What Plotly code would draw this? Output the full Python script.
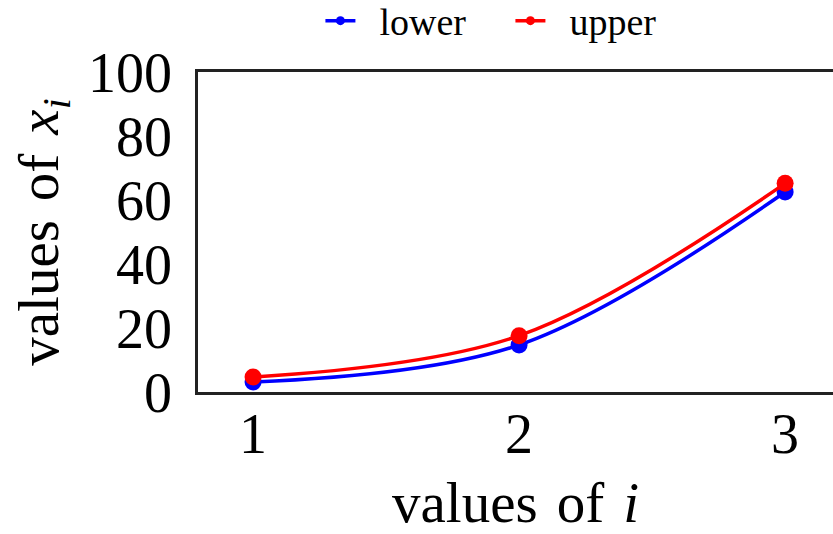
import plotly.graph_objects as go

# index values and the two bound series
i_values = [1, 2, 3]
lower = [3.1, 14.7, 62.5]
upper = [4.7, 17.6, 65.2]

series_names = ["lower", "upper"]
series_colors = ["#0000ff", "#ff0000"]
y_ticks = [0, 20, 40, 60, 80, 100]
x_ticks = [1, 2, 3]

FONT = "Liberation Serif"
NBSP = "\u00a0"
HAIR = "\u200a"

fig = go.Figure()

for name, ys, color in zip(series_names, [lower, upper], series_colors):
    # curve with large markers
    fig.add_trace(go.Scatter(
        x=i_values, y=ys, mode="lines+markers", name=name,
        line=dict(color=color, width=3.5, shape="spline"),
        marker=dict(color=color, size=17),
        showlegend=False, cliponaxis=False,
    ))
    # legend entry with a small marker
    fig.add_trace(go.Scatter(
        x=[None], y=[None], mode="lines+markers", name=NBSP * 2 + name,
        line=dict(color=color, width=3.5),
        marker=dict(color=color, size=9),
    ))

fig.update_layout(
    width=833, height=534,
    margin=dict(l=198, r=0, t=72, b=142, autoexpand=False),
    paper_bgcolor="white", plot_bgcolor="white",
    font=dict(family=FONT, color="black"),
    legend=dict(
        orientation="h", x=0.492, xanchor="center", y=1.258, yanchor="top",
        yref="paper", font=dict(size=38, family=FONT),
        entrywidth=145, tracegroupgap=0, bgcolor="rgba(0,0,0,0)",
    ),
    xaxis=dict(
        range=[0.793, 3.18], tickvals=x_ticks, ticktext=[str(v) for v in x_ticks],
        showline=True, linecolor="#222", linewidth=2.5, mirror=True,
        showgrid=False, zeroline=False, ticks="", ticklabelstandoff=-9,
        tickfont=dict(size=56, family=FONT),
        title=dict(text="values " + HAIR + "of " + HAIR + "<i>i</i>",
                   font=dict(size=57, family=FONT), standoff=35),
    ),
    yaxis=dict(
        range=[0, 100], tickvals=y_ticks, ticktext=[str(v) for v in y_ticks],
        showline=True, linecolor="#222", linewidth=2.5, mirror=False,
        showgrid=False, zeroline=False, ticks="", ticklabelstandoff=12,
        tickfont=dict(size=56, family=FONT),
        title=dict(text="values " + HAIR + "of " + HAIR + "<i>x</i><sub><i>i</i></sub>",
                   font=dict(size=57, family=FONT), standoff=12),
    ),
)

fig.write_html("out.html")
